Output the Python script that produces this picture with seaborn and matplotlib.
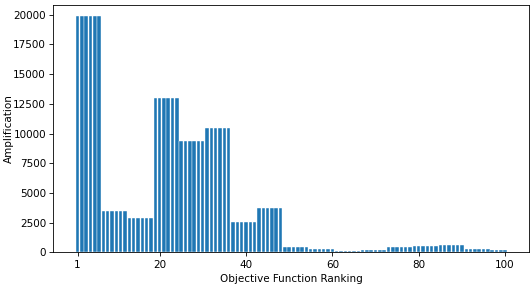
import numpy as np
import pandas as pd
import matplotlib
matplotlib.use('Agg')
import matplotlib.pyplot as plt
import seaborn as sns

# values: each level is held for a run of consecutive rankings
level_values = [19850, 3450, 2850, 13000, 9350, 10500, 2550, 3700,
                420, 290, 130, 190, 430, 540, 620, 270, 160]
level_counts = [6, 6, 6, 6, 6, 6, 6, 6, 6, 6, 6, 6, 6, 6, 6, 6, 4]
xtick_labels = [1, 20, 40, 60, 80, 100]

ranking = np.arange(1, sum(level_counts) + 1)
amplification = np.repeat(level_values, level_counts)
df = pd.DataFrame({'Ranking': ranking, 'Amplification': amplification})

fig, ax = plt.subplots(figsize=(531 / 75, 284 / 75), dpi=75)
sns.barplot(data=df, x='Ranking', y='Amplification', native_scale=True,
            color='#1f77b4', saturation=1, errorbar=None,
            edgecolor='white', linewidth=0.4, ax=ax)
ax.set_xticks(xtick_labels)
ax.set_xticklabels([str(t) for t in xtick_labels])
ax.set_xlabel('Objective Function Ranking')
ax.set_ylabel('Amplification')
ax.yaxis.set_label_coords(-0.082, 0.5)
ax.set_xlim(-4.6, 105.6)
fig.subplots_adjust(left=0.1004, right=0.9968, top=0.9835, bottom=0.1116)
fig.savefig('out.png', dpi=75, facecolor='white')
